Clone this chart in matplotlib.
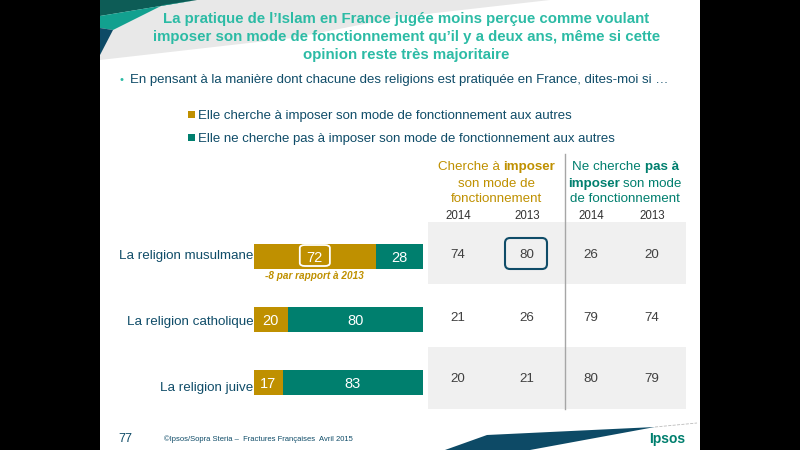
import matplotlib
matplotlib.use("Agg")
import matplotlib.pyplot as plt
from matplotlib.patches import FancyBboxPatch, Polygon, Rectangle

plt.rcParams['font.family'] = ['Liberation Sans', 'DejaVu Sans']

# --- DATA ---
religions = ["La religion musulmane", "La religion catholique", "La religion juive"]
impose_2015 = [72, 20, 17]
not_impose_2015 = [28, 80, 83]
table_rows = [[74, 80, 26, 20], [21, 26, 79, 74], [20, 21, 80, 79]]
table_years = ["2014", "2013", "2014", "2013"]

GOLD = "#bf9000"
GREEN = "#007f6e"
NAVY = "#0f4c68"
TEAL = "#2cbba5"
GREY_ROW = "#f0f0f0"

fig = plt.figure(figsize=(8, 4.5), dpi=100, facecolor="black")

# full slide overlay, in pixels
bg = fig.add_axes([0, 0, 1, 1])
bg.set_xlim(0, 800)
bg.set_ylim(450, 0)
bg.axis("off")
bg.add_patch(Rectangle((100, 0), 600, 450, fc="white", ec="none"))

# --- decoration ---
bg.add_patch(Polygon([(100, 60), (293, 38), (400, 17), (550, 0), (190, 0), (100, 10)], fc="#e8e8e8", ec="none"))
bg.add_patch(Polygon([(100, 16), (197, 0), (100, 0)], fc="#0d5c56", ec="none"))
bg.add_patch(Polygon([(100, 16), (197, 0), (163, 5), (113, 30), (100, 28)], fc="#12a08f", ec="none"))
bg.add_patch(Polygon([(100, 28), (113, 30), (100, 55)], fc="#0d4a66", ec="none"))
bg.add_patch(Polygon([(445, 450), (487, 435), (655, 427), (530, 450)], fc="#0d4a66", ec="none"))
bg.plot([655, 697], [427, 423], color="#bbbbbb", lw=0.6, ls="--")

# --- title and legend ---
title_lines = ["La pratique de l\u2019Islam en France jugée moins perçue comme voulant",
               "imposer son mode de fonctionnement qu\u2019il y a deux ans, même si cette",
               "opinion reste très majoritaire"]
for line, y in zip(title_lines, [18.5, 36.5, 54.5]):
    bg.text(406.5, y, line, color=TEAL, fontsize=10.8, fontweight="bold", ha="center", va="center")

bg.text(120, 80, "\u2022", color=TEAL, fontsize=8, ha="left", va="center")
bg.text(130, 80, "En pensant à la manière dont chacune des religions est pratiquée en France, dites-moi si \u2026",
        color=NAVY, fontsize=9.55, ha="left", va="center")

bg.add_patch(Rectangle((188, 111), 7, 7, fc=GOLD, ec="none"))
bg.text(198, 116, "Elle cherche à imposer son mode de fonctionnement aux autres",
        color=NAVY, fontsize=9.58, ha="left", va="center")
bg.add_patch(Rectangle((188, 134), 7, 7, fc=GREEN, ec="none"))
bg.text(198, 139, "Elle ne cherche pas à imposer son mode de fonctionnement aux autres",
        color=NAVY, fontsize=9.58, ha="left", va="center")

# --- table ---
col_x = [458, 527, 591, 652]
row_y = [255, 318, 379]
bg.add_patch(Rectangle((428, 222), 258, 62, fc=GREY_ROW, ec="none"))
bg.add_patch(Rectangle((428, 347), 258, 62, fc=GREY_ROW, ec="none"))
bg.plot([564.5, 564.5], [154, 409], color="#a6a6a6", lw=1)

for x, year in zip(col_x, table_years):
    bg.text(x, 216, year, color="#333333", fontsize=8.3, ha="center", va="center")
for y, row in zip(row_y, table_rows):
    for x, val in zip(col_x, row):
        bg.text(x, y, str(val), color="#404040", fontsize=9.6, ha="center", va="center")
bg.add_patch(FancyBboxPatch((505, 238), 42, 31, boxstyle="round,pad=0,rounding_size=5",
                            fc="none", ec=NAVY, lw=1.5))

# column heads with a bold word inside
bg.text(438, 167, "Cherche à", color=GOLD, fontsize=9.6, ha="left", va="center")
bg.text(503, 167, "imposer", color=GOLD, fontsize=9.6, fontweight="bold", ha="left", va="center")
bg.text(496, 184, "son mode de", color=GOLD, fontsize=9.6, ha="center", va="center")
bg.text(496, 199, "fonctionnement", color=GOLD, fontsize=9.6, ha="center", va="center")
bg.text(572, 167, "Ne cherche", color=GREEN, fontsize=9.6, ha="left", va="center")
bg.text(645, 167, "pas à", color=GREEN, fontsize=9.6, fontweight="bold", ha="left", va="center")
bg.text(568, 184, "imposer", color=GREEN, fontsize=9.6, fontweight="bold", ha="left", va="center")
bg.text(623, 184, "son mode", color=GREEN, fontsize=9.6, ha="left", va="center")
bg.text(625, 199, "de fonctionnement", color=GREEN, fontsize=9.6, ha="center", va="center")

# --- footer ---
bg.text(118, 439, "77", color=NAVY, fontsize=9, ha="left", va="center")
bg.text(164, 439, "©Ipsos/Sopra Steria \u2013  Fractures Françaises  Avril 2015", color=NAVY, fontsize=5.5,
        ha="left", va="center")
bg.text(667, 439, "Ipsos", color=GREEN, fontsize=10, fontweight="bold", ha="center", va="center")

# --- stacked bars, 254-423 px wide ---
ax = fig.add_axes([254 / 800, 1 - 396 / 450, 169 / 800, 160 / 450])
ax.patch.set_alpha(0)
ax.set_xlim(0, 100)
ax.set_ylim(396, 236)
ax.axis("off")
bar_y = [256, 319.5, 382.5]
label_y = [256.5, 322.5, 388]
value_y = [257.5, 321, 384]
ax.barh(bar_y, impose_2015, height=25, color=GOLD)
ax.barh(bar_y, not_impose_2015, left=impose_2015, height=25, color=GREEN)
for y, ly, a, b, name in zip(value_y, label_y, impose_2015, not_impose_2015, religions):
    ax.text(a / 2, y, str(a), color="white", fontsize=10.5, ha="center", va="center")
    ax.text(a + b / 2, y, str(b), color="white", fontsize=10.5, ha="center", va="center")
    ax.text(-0.5, ly, name, color=NAVY, fontsize=9.6, ha="right", va="center")
ax.add_patch(FancyBboxPatch((impose_2015[0] / 2 - 8.9, 245), 17.8, 21, boxstyle="round,pad=0,rounding_size=3",
                            fc="none", ec="white", lw=1.3, mutation_aspect=1))
ax.text(35.8, 276, "-8 par rapport à 2013", color=GOLD, fontsize=7.2, fontweight="bold", fontstyle="italic",
        ha="center", va="center")

fig.savefig("out.png", dpi=100, facecolor=fig.get_facecolor())
